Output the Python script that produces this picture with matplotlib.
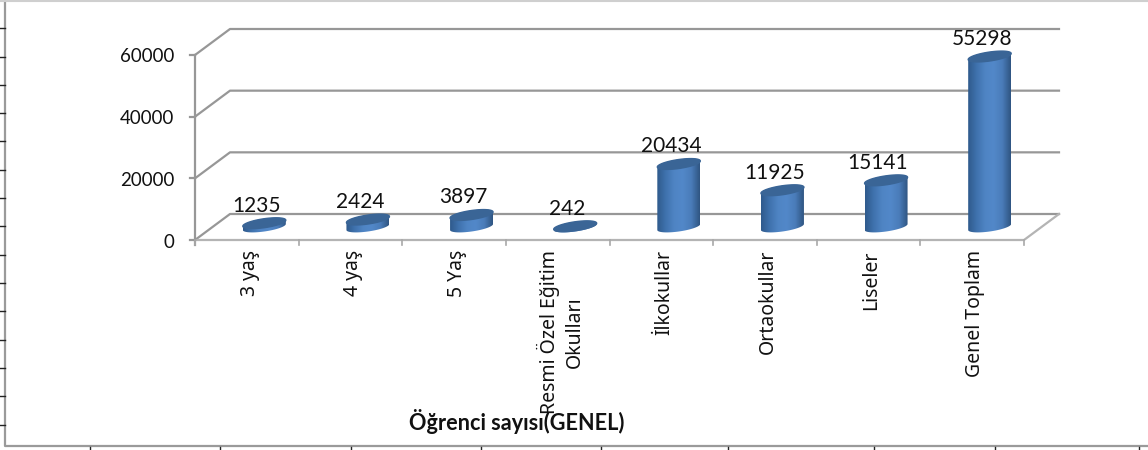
import numpy as np
import matplotlib.pyplot as plt
from matplotlib.colors import LinearSegmentedColormap
from matplotlib.patches import Polygon

# data
categories = ['3 yaş', '4 yaş', '5 Yaş', 'Resmi Özel Eğitim\nOkulları', 'İlkokullar',
              'Ortaokullar', 'Liseler', 'Genel Toplam']
values = [1235, 2424, 3897, 242, 20434, 11925, 15141, 55298]
y_ticks = [0, 20000, 40000, 60000]
title = 'Öğrenci sayısı(GENEL)'

# ticks of the outer frame (pixels of the page)
frame_left_ticks = [28, 57, 85, 113, 141, 170, 198, 226, 255, 283, 311, 340, 368, 396, 425]
frame_bottom_ticks = [90, 220, 351, 481, 601, 728, 874, 995, 1139]

plt.rcParams['font.family'] = ['Lato', 'DejaVu Sans']

W, H = 1148, 450
fig = plt.figure(figsize=(W / 100, H / 100), dpi=100)

# outer frame
frame = fig.add_axes([0, 0, 1, 1])
frame.set_xlim(0, W)
frame.set_ylim(H, 0)
frame.axis('off')
frame.plot([5, 5, W], [0, 446, 446], color='#9a9a9a', lw=1.6)
frame.plot([0, W], [0.5, 0.5], color='#cfcfcf', lw=1.5)
for y in frame_left_ticks:
    frame.plot([0, 5], [y, y], color='#222222', lw=1)
for x in frame_bottom_ticks:
    frame.plot([x, x], [447, 450], color='#222222', lw=1)

# chart axes: x in categories, y in values
x0, y0 = 195, 240
sx = (1024 - 195) / 8       # px per category
sy = 185 / 60000            # px per unit
ax = fig.add_axes([0, 0, 1, 1], facecolor='none')
xlim = (-x0 / sx, (W - x0) / sx)
ylim = (-(H - y0) / sy, y0 / sy)
ax.axis('off')

depth_x = 35 / sx
depth_y = 26 / sy
grid_c = '#979797'

# walls and floor
for v in y_ticks:
    ax.plot([0, depth_x, 8 + depth_x], [v, v + depth_y, v + depth_y], color=grid_c, lw=1.6, zorder=1)
ax.plot([0, 8, 8 + depth_x], [0, 0, depth_y], color='#b4b4b4', lw=1.6, zorder=1)
ax.plot([0, 0], [-5 / sy, 60000], color=grid_c, lw=1.6, zorder=1)
for v in y_ticks:
    ax.plot([-5 / sx, 0], [v, v], color=grid_c, lw=1.6, zorder=1)
for i in range(9):
    ax.plot([i, i], [0, -5 / sy], color='#a8a8a8', lw=1.2, zorder=1)

# cylinders
body_cmap = LinearSegmentedColormap.from_list(
    'body', ['#2f5a8c', '#3f72ad', '#4f84c4', '#5288c9', '#4a7cb9', '#2f5582'])
grad = np.linspace(0, 1, 128).reshape(1, -1)
a = 21.5 / sx
k = 3 / sy
b = 4.5 / sy
off_x = 17.5 / sx
off_y = 13 / sy


def ellipse(cx, cv, t):
    return cx + a * np.cos(t), cv + k * np.cos(t) + b * np.sin(t)


for i, v in enumerate(values):
    cx = i + 0.5 + off_x
    bx, by = ellipse(cx, off_y, np.linspace(np.pi, 2 * np.pi, 40))
    tx, ty = ellipse(cx, off_y + v, np.linspace(0, np.pi, 40))
    pts = np.column_stack([np.r_[bx, tx], np.r_[by, ty]])
    clip = Polygon(pts, closed=True, transform=ax.transData, fc='none', ec='none')
    ax.add_patch(clip)
    im = ax.imshow(grad, cmap=body_cmap, aspect='auto', zorder=3,
                   extent=[cx - a, cx + a, -1000, off_y + v + 2 * b])
    im.set_clip_path(clip)
    ex, ey = ellipse(cx, off_y + v, np.linspace(0, 2 * np.pi, 80))
    ax.fill(ex, ey, color='#3a6596', zorder=4)
    ax.text(cx - 8 / sx, off_y + v + 17.5 / sy, str(v), ha='center', va='center',
            fontsize=15, color='#111111', zorder=5)

# tick labels
for v in y_ticks:
    ax.text(-21 / sx, v - 2 / sy, str(v), ha='right', va='center', fontsize=13.5, color='#111111')
for i, c in enumerate(categories):
    ax.text(i + 0.5 + 3 / sx, -10 / sy, c, rotation=90, ha='center', va='top', ma='center',
            fontsize=14, color='#111111', family=['Noto Sans', 'DejaVu Sans'], linespacing=1.35)

ax.text(2.0 + (516 - 402) / sx, -(421 - y0) / sy, title, ha='center', va='center',
        fontsize=15.6, fontweight='bold', color='#111111', zorder=6)

ax.set_xlim(xlim)
ax.set_ylim(ylim)
fig.savefig('out.png', dpi=100)
